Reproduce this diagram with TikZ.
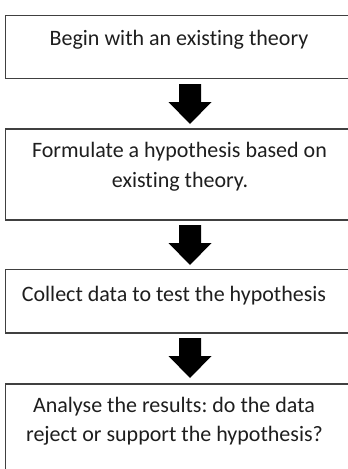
\documentclass[tikz,border=0pt]{standalone}
\usepackage{fontspec}
\setmainfont[Ligatures={NoCommon}]{Carlito}
\usetikzlibrary{calc}
\definecolor{boxline}{HTML}{404040}
\definecolor{txtcol}{HTML}{1E1E1E}
\frenchspacing
\begin{document}
\begin{tikzpicture}[x=1pt,y=-1pt]
\tikzset{
  stepbox/.style={draw=boxline, line width=1.1pt, fill=none, rectangle, inner sep=0pt, minimum width=354.5pt},
  txt/.style={text=txtcol, font=\fontsize{22}{29.3}\selectfont, inner sep=0pt, align=center, anchor=base},
  blockarrow/.style={fill=black, draw=none}
}
\useasboundingbox (0,0) rectangle (348,469);
% boxes
\node[stepbox, minimum height=62.6pt] (b1) at (182.75,47) {};
\node[stepbox, minimum height=91pt] (b2) at (182.75,174.5) {};
\node[stepbox, minimum height=63.3pt] (b3) at (182.75,301.35) {};
\node[stepbox, minimum height=91pt] (b4) at (182.75,429.5) {};
% texts
\node[txt] (t1) at (179,45.7) {Begin with an existing theory};
\node[txt] (t2a) at (179.5,157.7) {Formulate a hypothesis based on};
\node[txt] (t2b) at (180,187) {existing theory.};
\node[txt] (t3) at (174,301) {Collect data to test the hypothesis};
\node[txt] (t4a) at (174,412.7) {Analyse the results: do the data};
\node[txt] (t4b) at (174.5,441.7) {reject or support the hypothesis?};
% arrow coordinates
\coordinate (a1s) at (190,84);
\coordinate (a1e) at (190,124);
\coordinate (a2s) at (190,225);
\coordinate (a2e) at (190,265);
\coordinate (a3s) at (190,338);
\coordinate (a3e) at (190,378);
\foreach \s/\e in {a1s/a1e,a2s/a2e,a3s/a3e}{
  \fill[blockarrow] (\s) ++(-11,0) -- ++(22,0) -- ++(0,18) -- ++(10.5,0) -- (\e) -- ++(-21.5,-22) -- ++(10.5,0) -- cycle;
}
\end{tikzpicture}
\end{document}
